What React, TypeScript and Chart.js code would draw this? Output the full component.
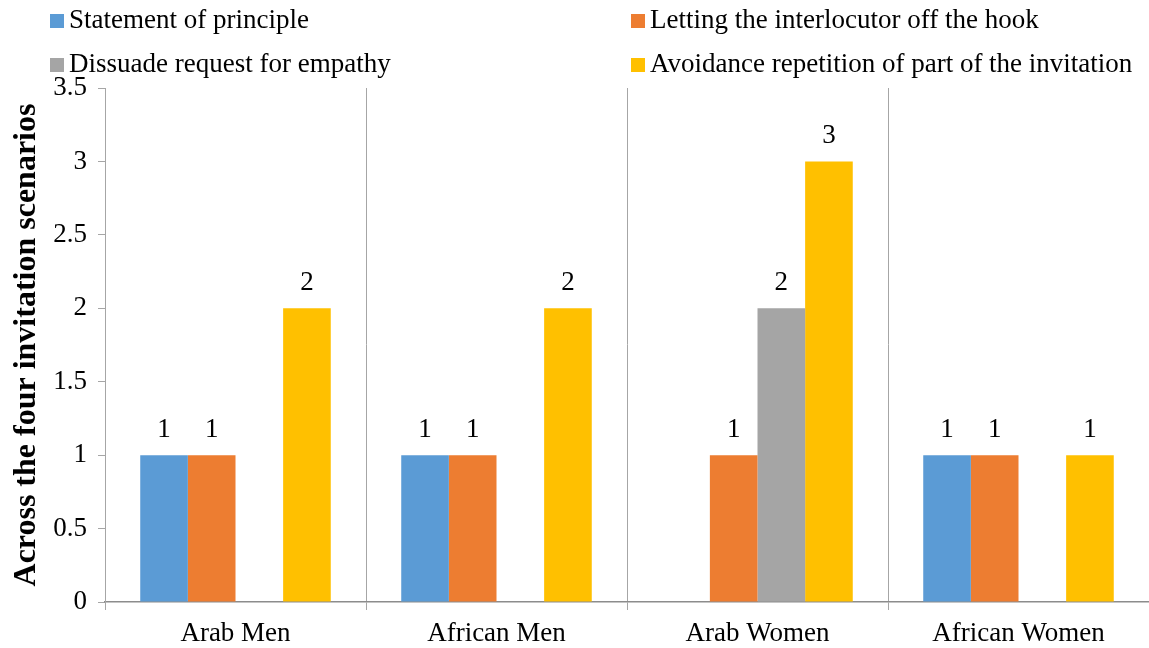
import React, { useEffect, useRef } from "react";
import { Chart, registerables } from "chart.js";

Chart.register(...registerables);

const categories = ["Arab Men", "African Men", "Arab Women", "African Women"];
const seriesNames = [
  "Statement of principle",
  "Letting the interlocutor off the hook",
  "Dissuade request for empathy",
  "Avoidance repetition of part of the invitation",
];
const statementValues = [1, 1, 0, 1];
const lettingValues = [1, 1, 1, 1];
const dissuadeValues = [0, 0, 2, 0];
const avoidanceValues = [2, 2, 3, 1];
const seriesColors = ["#5B9BD5", "#ED7D31", "#A5A5A5", "#FFC000"];
const yTitle = "Across the four invitation scenarios";

const W = 1149;
const H = 648;
const FONT = "'Liberation Serif', 'Times New Roman', serif";

const legendPlugin = {
  id: "gridLegend",
  afterDraw(chart: any) {
    const ctx = chart.ctx;
    const cols = [50, 631];
    const rows = [28, 72];
    ctx.save();
    ctx.font = `27px ${FONT}`;
    ctx.textBaseline = "alphabetic";
    ctx.textAlign = "left";
    chart.data.datasets.forEach((ds: any, i: number) => {
      const cx = cols[i % 2];
      const by = rows[Math.floor(i / 2)];
      ctx.fillStyle = ds.backgroundColor;
      ctx.fillRect(cx, by - 14, 14, 14);
      ctx.fillStyle = "#000";
      ctx.fillText(ds.label, cx + 19, by);
    });
    ctx.restore();
  },
};

const labelPlugin = {
  id: "barValues",
  afterDatasetsDraw(chart: any) {
    const ctx = chart.ctx;
    ctx.save();
    ctx.font = `27px ${FONT}`;
    ctx.fillStyle = "#000";
    ctx.textAlign = "center";
    ctx.textBaseline = "alphabetic";
    chart.data.datasets.forEach((ds: any, di: number) => {
      const meta = chart.getDatasetMeta(di);
      meta.data.forEach((bar: any, i: number) => {
        const v = ds.data[i];
        if (!v) return;
        ctx.fillText(String(v), bar.x, bar.y - 18);
      });
    });
    ctx.restore();
  },
};

export default function App() {
  const ref = useRef<HTMLCanvasElement | null>(null);

  useEffect(() => {
    if (!ref.current) return;
    const allValues = [statementValues, lettingValues, dissuadeValues, avoidanceValues];
    const chart = new Chart(ref.current, {
      type: "bar",
      data: {
        labels: categories,
        datasets: allValues.map((vals, i) => ({
          label: seriesNames[i],
          data: vals,
          backgroundColor: seriesColors[i],
          borderWidth: 0,
          barPercentage: 1,
          categoryPercentage: 0.73,
        })),
      },
      options: {
        responsive: false,
        devicePixelRatio: 1,
        animation: false,
        layout: { padding: { top: 88, left: 0, right: 0, bottom: 0 } },
        plugins: {
          legend: { display: false },
          tooltip: { enabled: false },
        },
        scales: {
          x: {
            offset: true,
            grid: {
              offset: true,
              drawOnChartArea: true,
              drawTicks: true,
              tickLength: 8,
              color: "#a6a6a6",
              lineWidth: 1,
            },
            border: { display: true, color: "#8c8c8c", width: 1.5 },
            ticks: {
              color: "#000",
              font: { family: FONT, size: 27, lineHeight: 1.2 },
              padding: 8,
              maxRotation: 0,
            },
            afterFit(scale: any) {
              scale.height = 46;
            },
          },
          y: {
            min: 0,
            max: 3.5,
            ticks: {
              stepSize: 0.5,
              color: "#000",
              font: { family: FONT, size: 27, lineHeight: 1.2 },
              padding: 11,
              callback: (value: any) => String(Number(value)),
            },
            grid: {
              drawOnChartArea: false,
              drawTicks: true,
              tickLength: 7,
              color: "#a6a6a6",
              lineWidth: 1,
            },
            border: { display: true, color: "#a6a6a6", width: 1 },
            title: {
              display: true,
              text: yTitle,
              color: "#000",
              font: { family: FONT, size: 32, weight: "bold", lineHeight: 1.2 },
              padding: { top: 8, bottom: 0 },
            },
            afterFit(scale: any) {
              scale.width = 105;
            },
          },
        },
      },
      plugins: [legendPlugin, labelPlugin],
    });
    return () => chart.destroy();
  }, []);

  return (
    <div
      style={{
        position: "absolute",
        left: 0,
        top: 0,
        width: W,
        height: H,
        overflow: "hidden",
        background: "#fff",
      }}
    >
      <canvas ref={ref} width={W} height={H} style={{ display: "block", width: W, height: H }} />
    </div>
  );
}
